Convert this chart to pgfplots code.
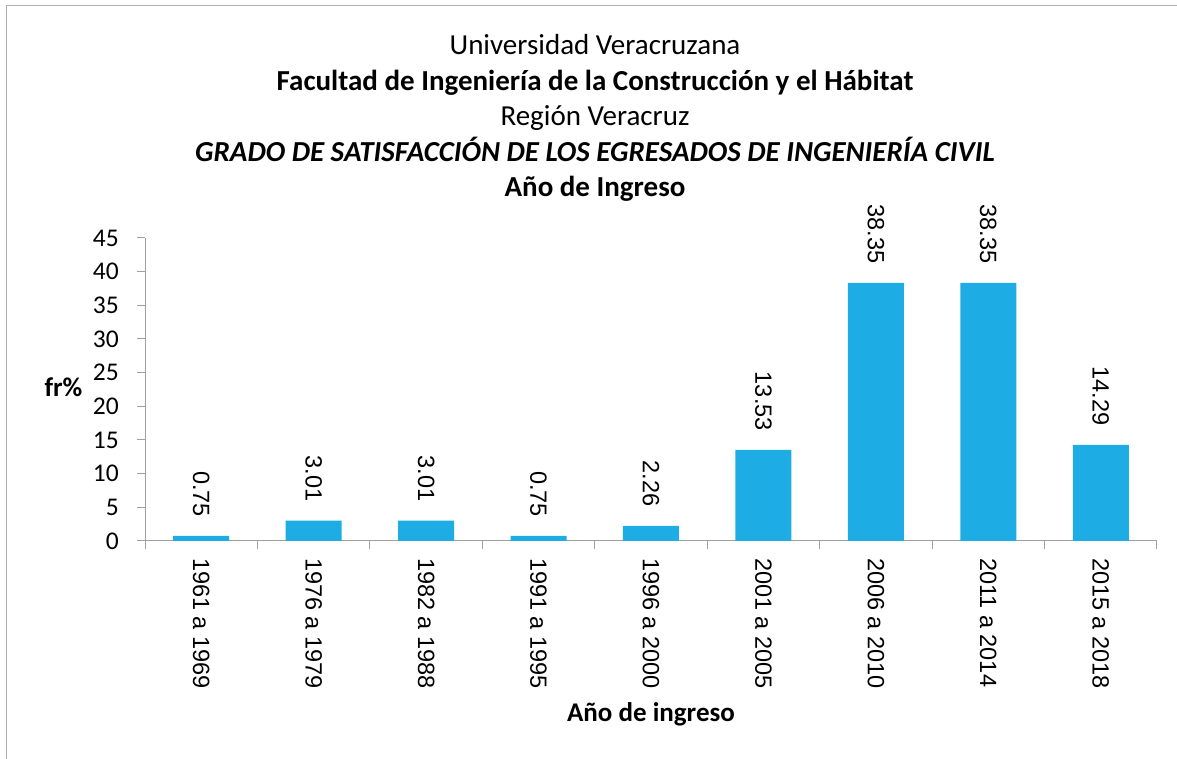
\documentclass[border=0pt]{standalone}
\usepackage{pgfplots}
\pgfplotsset{compat=1.18}
\usepackage{fontspec}
\setmainfont{Carlito}
\newfontfamily\arialf{Liberation Sans}
\definecolor{barblue}{RGB}{30,172,228}
\definecolor{axgray}{RGB}{160,160,160}
\definecolor{framegray}{RGB}{175,175,175}
\begin{document}
\begin{tikzpicture}[x=1pt,y=1pt]
\path[use as bounding box] (0,0) rectangle (1177,759);
\draw[framegray, line width=1pt] (6,0) -- (6,753) -- (1177,753);
\node[anchor=base, font=\fontsize{29}{32}\selectfont] at (595,704) {Universidad Veracruzana};
\node[anchor=base, font=\fontsize{29}{32}\selectfont\bfseries] at (595,668) {Facultad de Ingeniería de la Construcción y el Hábitat};
\node[anchor=base, font=\fontsize{29}{32}\selectfont] at (595,633) {Región Veracruz};
\node[anchor=base, font=\fontsize{29}{32}\selectfont\bfseries\itshape] at (595,597) {GRADO DE SATISFACCIÓN DE LOS EGRESADOS DE INGENIERÍA CIVIL};
\node[anchor=base, font=\fontsize{29}{32}\selectfont\bfseries] at (595,562) {Año de Ingreso};
\node[anchor=base, font=\fontsize{27}{30}\selectfont\bfseries] at (63.5,362) {fr\%};
\node[anchor=base, font=\fontsize{27}{30}\selectfont\bfseries] at (651,37) {Año de ingreso};
\begin{axis}[
  at={(145pt,218pt)}, anchor=south west,
  scale only axis, width=1012pt, height=303pt,
  xmin=-0.5, xmax=8.5, ymin=0, ymax=45,
  axis x line*=bottom, axis y line*=left,
  axis line style={-, axgray, line width=1pt},
  tick align=outside, major tick length=8pt,
  tick style={axgray, line width=1pt},
  xtick={-0.5,0.5,...,8.5}, xticklabels={},
  extra x ticks={0,1,...,8},
  extra x tick labels={1961 a 1969,1976 a 1979,1982 a 1988,1991 a 1995,1996 a 2000,2001 a 2005,2006 a 2010,2011 a 2014,2015 a 2018},
  extra x tick style={major tick length=0pt},
  xticklabel style={font=\arialf\fontsize{23.5}{26}\selectfont, rotate=-90, anchor=west, inner xsep=17pt, inner ysep=0pt},
  ytick={0,5,...,45},
  yticklabel style={font=\fontsize{25.5}{28}\selectfont, inner xsep=0pt, xshift=-18pt},
  /pgf/number format/assume math mode=true,
  ybar, bar width=56pt,
  nodes near coords, point meta=explicit symbolic,
  nodes near coords style={font=\arialf\fontsize{23.5}{26}\selectfont, rotate=-90, anchor=east, inner xsep=19pt, inner ysep=0pt},
]
\addplot[fill=barblue, draw=none] coordinates {
  (0,0.75)[0.75] (1,3.01)[3.01] (2,3.01)[3.01] (3,0.75)[0.75] (4,2.26)[2.26]
  (5,13.53)[13.53] (6,38.35)[38.35] (7,38.35)[38.35] (8,14.29)[14.29]
};
\end{axis}
\end{tikzpicture}
\end{document}
